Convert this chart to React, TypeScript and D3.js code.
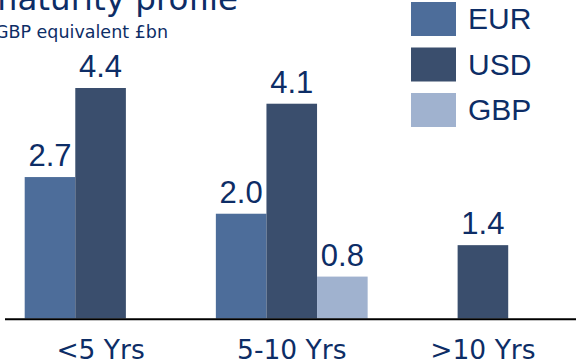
import React, { useEffect, useRef } from 'react';
import * as d3 from 'd3';

const categories = ['<5 Yrs', '5-10 Yrs', '>10 Yrs'];
const seriesNames = ['EUR', 'USD', 'GBP'];
const eurValues = [2.7, 2.0, 0];
const usdValues = [4.4, 4.1, 1.4];
const gbpValues = [0, 0.8, 0];
const seriesColors = ['#4d6d9a', '#3a4e6d', '#a0b2cf'];

const W = 576;
const H = 364;
const NAVY = '#0d2d66';
const LABEL_FONT = '"Liberation Sans", Arial, sans-serif';
const AXIS_FONT = '"DejaVu Sans", sans-serif';
const TITLE_FONT = '"DejaVu Sans", sans-serif';

const App = () => {
    const svgRef = useRef<SVGSVGElement>(null);

    useEffect(() => {
        if (!svgRef.current) return;
        const svg = d3.select(svgRef.current);
        svg.selectAll('*').remove();

        const series = seriesNames.map((name, i) => ({
            name,
            color: seriesColors[i],
            values: [eurValues, usdValues, gbpValues][i]
        }));

        // Scales
        const x0 = d3.scaleBand()
            .domain(categories)
            .range([5, 578.5])
            .paddingInner(0.206)
            .paddingOuter(0.103);

        const x1 = d3.scaleBand()
            .domain(seriesNames)
            .range([0, x0.bandwidth()]);

        const baseline = 318.5;
        const y = d3.scaleLinear()
            .domain([0, 4.4])
            .range([baseline, 88]);

        // Title (cut off at the top in the original)
        svg.append('text')
            .attr('x', 238)
            .attr('y', 10)
            .attr('text-anchor', 'end')
            .style('font-family', TITLE_FONT)
            .style('font-size', '32.5px')
            .style('fill', NAVY)
            .text('maturity profile');

        svg.append('text')
            .attr('x', 168)
            .attr('y', 37.5)
            .attr('text-anchor', 'end')
            .style('font-family', TITLE_FONT)
            .style('font-size', '17.5px')
            .style('fill', NAVY)
            .text('GBP equivalent £bn');

        // Bars and value labels, one pass per currency
        series.forEach(s => {
            const pts = categories
                .map((c, i) => ({ cat: c, value: s.values[i] }))
                .filter(p => p.value > 0);

            const bx = (p: { cat: string }) => (x0(p.cat) as number) + (x1(s.name) as number);

            svg.append('g')
                .selectAll('rect')
                .data(pts)
                .enter()
                .append('rect')
                .attr('x', bx)
                .attr('y', p => y(p.value))
                .attr('width', x1.bandwidth())
                .attr('height', p => baseline - y(p.value))
                .attr('fill', s.color);

            svg.append('g')
                .selectAll('text')
                .data(pts)
                .enter()
                .append('text')
                .attr('x', p => bx(p) + x1.bandwidth() / 2)
                .attr('y', p => y(p.value) - 11)
                .attr('text-anchor', 'middle')
                .style('font-family', LABEL_FONT)
                .style('font-size', '31px')
                .style('fill', NAVY)
                .text(p => p.value.toFixed(1));
        });

        // X axis
        svg.append('line')
            .attr('x1', 5)
            .attr('x2', W)
            .attr('y1', 319.2)
            .attr('y2', 319.2)
            .attr('stroke', '#000')
            .attr('stroke-width', 2);

        svg.append('g')
            .selectAll('text')
            .data(categories)
            .enter()
            .append('text')
            .attr('x', d => (x0(d) as number) + x0.bandwidth() / 2)
            .attr('y', 359)
            .attr('text-anchor', 'middle')
            .style('font-family', AXIS_FONT)
            .style('font-size', '26.5px')
            .style('fill', NAVY)
            .text(d => d);

        // Legend
        const legend = svg.append('g')
            .attr('transform', 'translate(411, 2)');

        series.forEach((s, i) => {
            const row = legend.append('g')
                .attr('transform', `translate(0, ${i * 45.5})`);
            row.append('rect')
                .attr('width', 45)
                .attr('height', 34)
                .attr('fill', s.color);
            row.append('text')
                .attr('x', 57)
                .attr('y', 27)
                .style('font-family', LABEL_FONT)
                .style('font-size', '30px')
                .style('fill', NAVY)
                .text(s.name);
        });
    }, []);

    return (
        <div style={{ position: 'fixed', left: 0, top: 0, width: W, height: H, background: '#fff' }}>
            <svg ref={svgRef} width={W} height={H} style={{ display: 'block' }}></svg>
        </div>
    );
};

export default App;
